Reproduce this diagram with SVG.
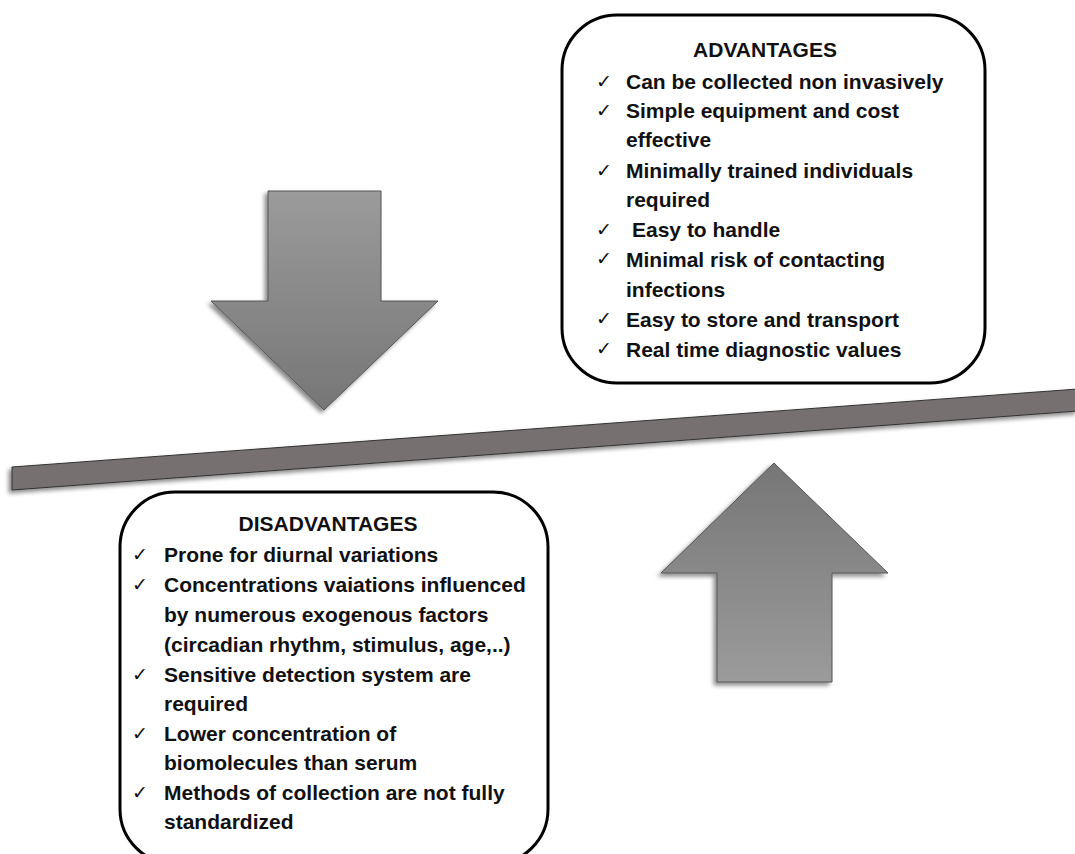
<svg xmlns="http://www.w3.org/2000/svg" width="1075" height="854" viewBox="0 0 1075 854">
<style>
.box{fill:#fff;stroke:#000;stroke-width:3}
.arrow{stroke:#555;stroke-width:1}
.h{font-family:"Liberation Sans",Arial,sans-serif;font-weight:bold;font-size:21px;fill:#111;text-anchor:middle}
.t{font-family:"Liberation Sans",Arial,sans-serif;font-weight:bold;font-size:21px;fill:#111}
.c{font-family:"DejaVu Sans",sans-serif;font-size:19px;fill:#111}
</style>
<defs>
<linearGradient id="gDown" x1="0" y1="0" x2="0" y2="1">
<stop offset="0" stop-color="#9b9b9b"/><stop offset="1" stop-color="#767676"/>
</linearGradient>
<linearGradient id="gUp" x1="0" y1="0" x2="0" y2="1">
<stop offset="0" stop-color="#767676"/><stop offset="1" stop-color="#9b9b9b"/>
</linearGradient>
<filter id="sh" x="-10%" y="-10%" width="120%" height="120%">
<feDropShadow dx="-3" dy="3" stdDeviation="2" flood-color="#000" flood-opacity="0.45"/>
</filter>
</defs>

<g id="down-arrow">
<polygon class="arrow" filter="url(#sh)" fill="url(#gDown)" points="268,191 381,191 381,301 438,301 324,410 211,301 268,301"/>
</g>

<g id="up-arrow">
<polygon class="arrow" filter="url(#sh)" fill="url(#gUp)" points="774,463 888,573 832,573 832,682 717,682 717,573 661,573"/>
</g>

<g id="connectors">
<polygon id="lever" filter="url(#sh)" fill="#767170" stroke="#333" stroke-width="1" points="12,467 1078,389 1078,411 12,490"/>
</g>

<g id="advantages">
<rect class="box" x="562" y="15" width="423" height="368" rx="55" ry="55"/>
<text class="h" x="765" y="57">ADVANTAGES</text>
<g class="c">
<text x="596" y="88">✓</text>
<text x="596" y="117">✓</text>
<text x="596" y="177">✓</text>
<text x="596" y="236">✓</text>
<text x="596" y="265">✓</text>
<text x="596" y="325">✓</text>
<text x="596" y="355">✓</text>
</g>
<text class="t" x="626" y="89">Can be collected non invasively</text>
<text class="t" x="626" y="118">Simple equipment and cost</text>
<text class="t" x="626" y="147">effective</text>
<text class="t" x="626" y="178">Minimally trained individuals</text>
<text class="t" x="626" y="207">required</text>
<text class="t" x="632" y="237">Easy to handle</text>
<text class="t" x="626" y="267">Minimal risk of contacting</text>
<text class="t" x="626" y="297">infections</text>
<text class="t" x="626" y="327">Easy to store and transport</text>
<text class="t" x="626" y="357">Real time diagnostic values</text>
</g>

<g id="disadvantages">
<rect class="box" x="120" y="492" width="428" height="372" rx="55" ry="55"/>
<text class="h" x="328" y="531">DISADVANTAGES</text>
<g class="c">
<text x="132" y="561">✓</text>
<text x="132" y="591">✓</text>
<text x="132" y="681">✓</text>
<text x="132" y="740">✓</text>
<text x="132" y="799">✓</text>
</g>
<text class="t" x="164" y="562">Prone for diurnal variations</text>
<text class="t" x="164" y="592">Concentrations vaiations influenced</text>
<text class="t" x="164" y="622">by numerous exogenous factors</text>
<text class="t" x="164" y="652">(circadian rhythm, stimulus, age,..)</text>
<text class="t" x="164" y="682">Sensitive detection system are</text>
<text class="t" x="164" y="711">required</text>
<text class="t" x="164" y="741">Lower concentration of</text>
<text class="t" x="164" y="770">biomolecules than serum</text>
<text class="t" x="164" y="800">Methods of collection are not fully</text>
<text class="t" x="164" y="829">standardized</text>
</g>
</svg>
